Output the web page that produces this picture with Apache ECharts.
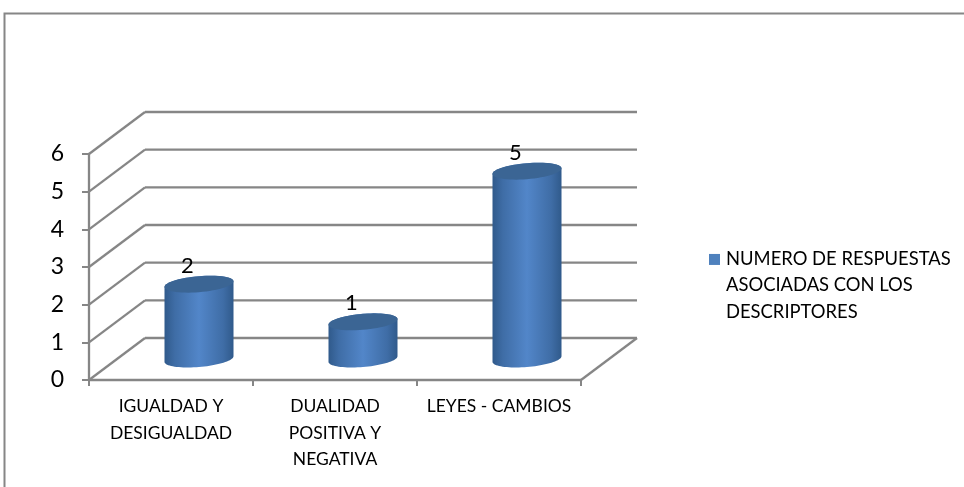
<!DOCTYPE html>
<html>
<head>
<meta charset="utf-8">
<style>html,body{margin:0;padding:0;background:#fff}#c{width:964px;height:487px}</style>
<script src="https://cdn.jsdelivr.net/npm/echarts@6/dist/echarts.min.js"></script>
</head>
<body>
<div id="c"></div>
<script>
const categories = ['IGUALDAD Y\nDESIGUALDAD', 'DUALIDAD\nPOSITIVA Y\nNEGATIVA', 'LEYES - CAMBIOS'];
const seriesName = 'NUMERO DE RESPUESTAS\nASOCIADAS CON LOS\nDESCRIPTORES';
const values = [2, 1, 5];
const yTicks = [0, 1, 2, 3, 4, 5, 6];

const GRAY = '#868686';
const DEPTH_X = 56, DEPTH_Y = -42;
const R_X = 34.5, R_Y = 8, SHEAR = 2.8;

function rim(cx, cy, from, to, n) {
  const pts = [];
  for (let i = 0; i <= n; i++) {
    const t = from + (to - from) * i / n;
    pts.push([cx + R_X * Math.cos(t), cy + R_Y * Math.sin(t) - SHEAR * Math.cos(t)]);
  }
  return pts;
}

function renderWall(params, api) {
  const cs = params.coordSys;
  const y = api.coord([0, api.value(1)])[1];
  const x0 = cs.x, x1 = cs.x + cs.width;
  const children = [];
  const line = (a, b, c, d) => children.push({type: 'line', shape: {x1: a, y1: b, x2: c, y2: d}, style: {stroke: GRAY, lineWidth: 2.3}});
  line(x0, y, x0 + DEPTH_X, y + DEPTH_Y);
  line(x0 + DEPTH_X, y + DEPTH_Y, x1 + DEPTH_X, y + DEPTH_Y);
  if (api.value(1) === 0) line(x1, y, x1 + DEPTH_X, y + DEPTH_Y);
  return {type: 'group', children};
}

function renderCylinder(params, api) {
  const base = api.coord([api.value(0), 0]);
  const top = api.coord([api.value(0), api.value(1)]);
  const cx = base[0] + DEPTH_X / 2;
  const by = base[1] + DEPTH_Y / 2;
  const ty = top[1] + DEPTH_Y / 2 + 0.5;
  const bodyPts = rim(cx, by, 0, Math.PI, 40).concat(rim(cx, ty, Math.PI, 2 * Math.PI, 40));
  return {type: 'group', children: [
    {type: 'polygon', shape: {points: bodyPts}, style: {
      fill: {type: 'linear', x: 0, y: 0, x2: 1, y2: 0, colorStops: [
        {offset: 0, color: '#305A8B'}, {offset: 0.15, color: '#3F6DA6'},
        {offset: 0.5, color: '#5286C9'}, {offset: 0.85, color: '#3F6DA6'}, {offset: 1, color: '#305A8B'}]}
    }},
    {type: 'polygon', shape: {points: rim(cx, ty, 0, 2 * Math.PI, 60)}, style: {fill: '#3B6594'}},
    {type: 'text', x: cx - 11.5, y: ty - 18.5, style: {
      text: String(api.value(1)), fill: '#000', font: '22px Lato', align: 'center', verticalAlign: 'middle'
    }}
  ]};
}

const chart = echarts.init(document.getElementById('c'), null, {renderer: 'canvas'});
chart.setOption({
  animation: false,
  backgroundColor: '#fff',
  graphic: [{
    type: 'polyline', silent: true,
    shape: {points: [[4.5, 487], [4.5, 13.5], [964, 13.5]]},
    style: {fill: 'none', stroke: GRAY, lineWidth: 2}
  }],
  grid: {left: 89, top: 154, width: 492, height: 226},
  legend: {
    left: 709, top: 246, orient: 'vertical',
    data: [{name: seriesName, icon: 'path://M0 0H0 M0 7.5H11V18.5H0Z M12 78H12'}],
    itemWidth: 12, itemHeight: 78, itemGap: 0, padding: 0, selectedMode: false,
    textStyle: {fontFamily: 'Lato', fontSize: 18.4, color: '#000', lineHeight: 26.3}
  },
  xAxis: {
    type: 'category', data: categories, boundaryGap: true,
    axisLine: {lineStyle: {color: GRAY, width: 2.3}},
    axisTick: {show: true, length: 6, lineStyle: {color: GRAY, width: 2}},
    axisLabel: {interval: 0, fontFamily: 'Lato', fontSize: 17.5, color: '#000', lineHeight: 26.5, margin: 13.5}
  },
  yAxis: {
    type: 'value', min: 0, max: 6, interval: 1,
    axisLine: {show: true, lineStyle: {color: GRAY, width: 2.3}},
    axisTick: {show: true, length: 7, lineStyle: {color: GRAY, width: 2}},
    splitLine: {show: false},
    axisLabel: {fontFamily: 'Lato', fontSize: 23, color: '#000', margin: 25, padding: [4, 0, 0, 0]}
  },
  series: [
    {type: 'custom', name: 'pared', silent: true, renderItem: renderWall, z: 1,
      data: yTicks.map(v => [0, v])},
    {type: 'custom', name: seriesName, silent: true, renderItem: renderCylinder, z: 3,
      itemStyle: {color: '#4F81BD'},
      encode: {x: 0, y: 1},
      data: values.map((v, i) => [i, v])}
  ]
});
</script>
</body>
</html>
